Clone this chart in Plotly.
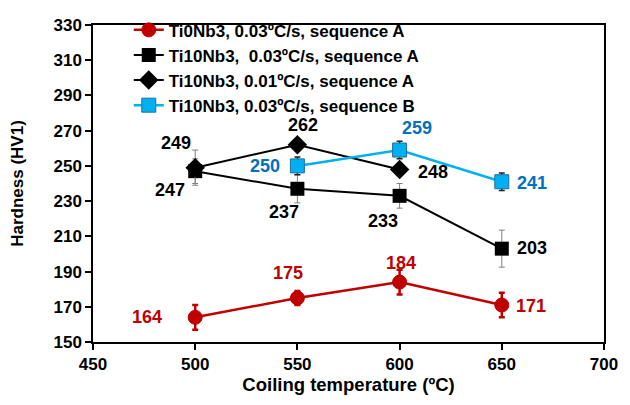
import plotly.graph_objects as go

temps_a = [500, 550, 600, 650]
ti0_003_A = [164, 175, 184, 171]
ti0_003_A_err = [7, 4, 7, 7]
ti10_003_A = [247, 237, 233, 203]
ti10_003_A_err = [7, 8, 7, 10.5]
temps_c = [500, 550, 600]
ti10_001_A = [249, 262, 248]
ti10_001_A_err = [10, 3, 3]
temps_b = [550, 600, 650]
ti10_003_B = [250, 259, 241]
ti10_003_B_err = [5, 5, 5]

x_ticks = [450, 500, 550, 600, 650, 700]
y_ticks = [150, 170, 190, 210, 230, 250, 270, 290, 310, 330]

names = ["Ti0Nb3, 0.03ºC/s, sequence A",
         "Ti10Nb3,&nbsp; 0.03ºC/s, sequence A",
         "Ti10Nb3, 0.01ºC/s, sequence A",
         "Ti10Nb3, 0.03ºC/s, sequence B"]

RED = "#C00000"
LBLUE = "#00B0F0"
DBLUE = "#0070C0"
FONT = "Liberation Sans"

fig = go.Figure()
fig.add_trace(go.Scatter(x=temps_a, y=ti0_003_A, name=names[0], mode="lines+markers",
    line=dict(color=RED, width=2.5),
    marker=dict(symbol="circle", size=14, color=RED, line=dict(color=RED, width=1)),
    error_y=dict(type="data", array=ti0_003_A_err, color=RED, thickness=2.5, width=3)))
fig.add_trace(go.Scatter(x=temps_a, y=ti10_003_A, name=names[1], mode="lines+markers",
    line=dict(color="black", width=2),
    marker=dict(symbol="square", size=14, color="black"),
    error_y=dict(type="data", array=ti10_003_A_err, color="#808080", thickness=1, width=3)))
fig.add_trace(go.Scatter(x=temps_c, y=ti10_001_A, name=names[2], mode="lines+markers",
    line=dict(color="black", width=2),
    marker=dict(symbol="diamond", size=15, color="black"),
    error_y=dict(type="data", array=ti10_001_A_err, color="#808080", thickness=1, width=3)))
fig.add_trace(go.Scatter(x=temps_b, y=ti10_003_B, name=names[3], mode="lines+markers",
    line=dict(color=LBLUE, width=2.5),
    marker=dict(symbol="square", size=14, color=LBLUE, line=dict(color="#1F6F9F", width=1)),
    error_y=dict(type="data", array=ti10_003_B_err, color="#202020", thickness=1.5, width=3)))

ann = []
def lab(xs, ys, color, shifts):
    for x, y, (dx, dy) in zip(xs, ys, shifts):
        ann.append(dict(x=x, y=y, xref="x", yref="y", text=str(y), showarrow=False,
                        xshift=dx, yshift=dy,
                        font=dict(family=FONT, size=18, color=color, weight="bold")))

lab(temps_a, ti0_003_A, RED, [(-48, 0), (-9, 25), (1, 19), (29, -1)])
lab(temps_a, ti10_003_A, "black", [(-25, -19), (-13, -23), (-17, -25), (30, 1)])
lab(temps_c, ti10_001_A, "black", [(-19, 25), (6, 20), (33, -3)])
lab(temps_b, ti10_003_B, DBLUE, [(-32, 0), (17, 22), (30, -1)])

fig.update_layout(
    width=630, height=405,
    margin=dict(l=93, r=17, t=18, b=63),
    paper_bgcolor="white", plot_bgcolor="white",
    font=dict(family=FONT, color="black"),
    annotations=ann,
    legend=dict(x=0.07, y=1.04, xanchor="left", yanchor="top",
                bgcolor="rgba(0,0,0,0)", tracegroupgap=0,
                font=dict(family=FONT, size=17, color="black", weight="bold"),
                itemwidth=30),
    showlegend=True,
)
axis_common = dict(showline=True, linecolor="black", linewidth=1.5, mirror=True,
    ticks="outside", ticklen=6, tickcolor="black", tickwidth=1.5, showgrid=False, zeroline=False,
    tickfont=dict(family=FONT, size=17, color="black", weight="bold"))
fig.update_xaxes(range=[450, 700], tickvals=x_ticks,
    ticktext=[f"<b>{v}</b>" for v in x_ticks], **axis_common,
    title=dict(text="Coiling temperature (ºC)",
               font=dict(family=FONT, size=18.5, color="black", weight="bold"), standoff=5))
fig.update_yaxes(range=[150, 330], tickvals=y_ticks,
    ticktext=[f"<b>{v}</b>" for v in y_ticks], **axis_common,
    title=dict(text="Hardness (HV1)",
               font=dict(family=FONT, size=17, color="black", weight="bold"), standoff=26))

fig.write_html("out.html")
